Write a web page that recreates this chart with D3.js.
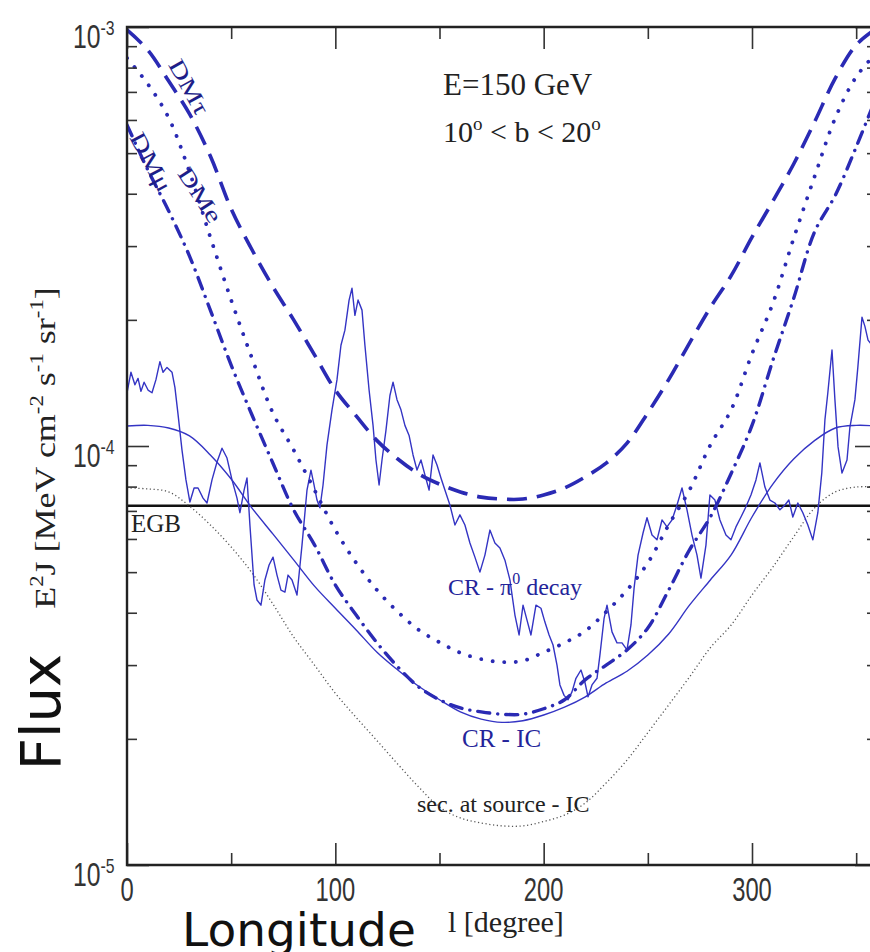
<!DOCTYPE html>
<html><head><meta charset="utf-8">
<script src="https://cdn.jsdelivr.net/npm/d3@7"></script>
<style>body{margin:0;background:#fff;} svg{display:block;}</style>
</head><body>
<svg id="c" width="870" height="952"></svg>
<script>
// ---------- data ----------
const lon = d3.range(0, 361, 10);
const dmTau = [9.84e-4, 8.81e-4, 7.43e-4, 6.20e-4, 4.92e-4, 3.68e-4, 2.94e-4, 2.40e-4, 2.00e-4, 1.65e-4,
  1.36e-4, 1.18e-4, 1.03e-4, 9.31e-5, 8.58e-5, 8.11e-5, 7.77e-5, 7.55e-5, 7.47e-5, 7.47e-5,
  7.64e-5, 7.94e-5, 8.44e-5, 9.10e-5, 1.016e-4, 1.20e-4, 1.44e-4, 1.76e-4, 2.14e-4, 2.55e-4,
  3.15e-4, 3.84e-4, 4.71e-4, 5.93e-4, 7.55e-4, 9.06e-4, 9.94e-4];
const dmE = [8.43e-4, 7.31e-4, 6.07e-4, 4.51e-4, 3.15e-4, 2.23e-4, 1.62e-4, 1.20e-4, 9.78e-5, 7.85e-5,
  6.30e-5, 5.26e-5, 4.53e-5, 4.02e-5, 3.64e-5, 3.40e-5, 3.21e-5, 3.10e-5, 3.05e-5, 3.07e-5,
  3.22e-5, 3.39e-5, 3.62e-5, 4.02e-5, 4.53e-5, 5.26e-5, 6.48e-5, 7.85e-5, 1.005e-4, 1.22e-4,
  1.66e-4, 2.19e-4, 3.13e-4, 4.39e-4, 6.07e-4, 7.6e-4, 8.7e-4];
const dmMu = [5.84e-4, 4.56e-4, 3.64e-4, 2.84e-4, 2.11e-4, 1.56e-4, 1.186e-4, 9.11e-5, 7.04e-5, 5.81e-5,
  4.66e-5, 3.95e-5, 3.39e-5, 2.97e-5, 2.66e-5, 2.48e-5, 2.37e-5, 2.32e-5, 2.29e-5, 2.29e-5,
  2.36e-5, 2.48e-5, 2.77e-5, 3.00e-5, 3.26e-5, 3.68e-5, 4.53e-5, 5.65e-5, 6.77e-5, 8.6e-5,
  1.12e-4, 1.60e-4, 2.25e-4, 3.24e-4, 3.97e-4, 5.17e-4, 6.88e-4];
const crIC = [1.116e-4, 1.12e-4, 1.104e-4, 1.057e-4, 9.52e-5, 8.34e-5, 7.11e-5, 6.17e-5, 5.35e-5, 4.63e-5,
  4.10e-5, 3.64e-5, 3.22e-5, 2.92e-5, 2.67e-5, 2.48e-5, 2.32e-5, 2.23e-5, 2.19e-5, 2.21e-5,
  2.28e-5, 2.38e-5, 2.52e-5, 2.72e-5, 2.90e-5, 3.17e-5, 3.56e-5, 4.17e-5, 4.79e-5, 5.5e-5,
  6.77e-5, 8.11e-5, 9.31e-5, 1.03e-4, 1.104e-4, 1.12e-4, 1.116e-4];
const secIC = [7.94e-5, 7.9e-5, 7.77e-5, 7.19e-5, 6.48e-5, 5.74e-5, 4.98e-5, 4.20e-5, 3.50e-5, 3.00e-5,
  2.57e-5, 2.25e-5, 1.98e-5, 1.74e-5, 1.535e-5, 1.375e-5, 1.295e-5, 1.26e-5, 1.24e-5, 1.24e-5,
  1.27e-5, 1.316e-5, 1.406e-5, 1.57e-5, 1.78e-5, 2.07e-5, 2.41e-5, 2.81e-5, 3.30e-5, 3.74e-5,
  4.41e-5, 5.14e-5, 6.07e-5, 7.11e-5, 7.77e-5, 7.98e-5, 7.98e-5];
// CR - pi0 decay: [longitude, flux]
const pi0 = [[0,1.34e-4],[1.9,1.50e-4],[3.8,1.40e-4],[5.3,1.45e-4],[6.7,1.35e-4],[8.2,1.42e-4],[10.1,1.36e-4],
  [12.0,1.34e-4],[13.9,1.44e-4],[15.8,1.59e-4],[17.3,1.50e-4],[19.2,1.54e-4],[21.6,1.50e-4],[23.0,1.38e-4],
  [24.5,1.19e-4],[26.4,9.78e-5],[28.3,8.30e-5],[30.2,7.35e-5],[32.2,7.94e-5],[34.1,7.94e-5],[36.5,7.51e-5],
  [38.4,7.31e-5],[40.8,8.30e-5],[43.2,9.16e-5],[45.6,9.88e-5],[48.0,9.36e-5],[50.4,8.30e-5],[52.8,7.51e-5],
  [54.2,6.93e-5],[56.2,7.85e-5],[57.6,8.39e-5],[59.0,6.48e-5],[61.0,4.66e-5],[62.4,4.29e-5],[64.3,4.17e-5],
  [66.2,4.79e-5],[68.2,5.20e-5],[70.1,5.43e-5],[72.0,4.92e-5],[73.9,4.53e-5],[75.8,4.48e-5],[77.3,4.92e-5],
  [79.2,4.79e-5],[81.6,4.41e-5],[84.0,5.80e-5],[86.4,7.85e-5],[88.3,8.76e-5],[89.8,8.07e-5],[91.2,7.43e-5],
  [92.6,7.12e-5],[94.1,8.07e-5],[96.0,1.006e-4],[98.4,1.22e-4],[100.8,1.44e-4],[102.7,1.74e-4],[104.6,1.89e-4],
  [106.6,2.23e-4],[108.0,2.38e-4],[109.4,2.05e-4],[110.9,2.23e-4],[112.8,2.11e-4],[114.2,1.74e-4],[116.2,1.36e-4],
  [118.1,1.12e-4],[119.5,9.26e-5],[121.0,8.07e-5],[122.4,9.26e-5],[124.3,1.09e-4],[126.2,1.32e-4],[127.7,1.42e-4],
  [129.6,1.29e-4],[131.5,1.22e-4],[133.4,1.12e-4],[135.4,1.06e-4],[137.3,9.52e-5],[139.2,8.76e-5],[141.1,9.26e-5],
  [143.0,8.53e-5],[145.0,7.85e-5],[146.9,9.52e-5],[148.8,9.01e-5],[150.7,8.39e-5],[152.6,7.85e-5],[155.0,7.23e-5],
  [157.4,6.48e-5],[159.8,6.85e-5],[162.2,6.48e-5],[164.6,5.87e-5],[167.0,5.43e-5],[169.4,5.00e-5],[171.8,5.49e-5],
  [174.2,6.30e-5],[176.6,5.87e-5],[179.0,5.71e-5],[181.4,5.34e-5],[183.8,4.79e-5],[186.2,3.95e-5],[188.2,3.54e-5],
  [190.1,4.17e-5],[192.0,3.84e-5],[193.9,3.54e-5],[196.3,4.17e-5],[198.7,4.10e-5],[200.6,3.80e-5],[202.6,3.54e-5],
  [204.5,3.35e-5],[206.4,3.00e-5],[207.8,2.69e-5],[209.8,2.54e-5],[211.7,2.48e-5],[213.6,2.59e-5],[215.5,2.79e-5],
  [217.9,2.92e-5],[219.8,2.73e-5],[221.3,2.52e-5],[223.2,2.69e-5],[225.6,2.79e-5],[227.0,3.17e-5],[229.0,3.88e-5],
  [230.4,4.17e-5],[232.8,3.60e-5],[235.2,3.39e-5],[237.6,3.39e-5],[240.0,3.26e-5],[241.9,3.74e-5],[243.4,4.58e-5],
  [245.3,5.49e-5],[247.7,6.20e-5],[249.6,6.74e-5],[252.0,6.13e-5],[254.4,5.97e-5],[256.8,6.66e-5],[259.2,6.41e-5],
  [261.6,6.66e-5],[264.0,7.23e-5],[266.4,7.94e-5],[268.8,7.04e-5],[271.2,6.13e-5],[273.6,5.49e-5],[275.5,4.84e-5],
  [277.9,5.80e-5],[279.8,7.64e-5],[282.2,7.43e-5],[284.6,6.66e-5],[287.5,6.13e-5],[289.9,5.97e-5],[292.3,6.41e-5],
  [294.7,6.77e-5],[297.1,7.16e-5],[299.5,7.64e-5],[301.9,8.30e-5],[303.8,9.11e-5],[306.2,7.98e-5],[308.6,7.43e-5],
  [311.0,7.31e-5],[313.4,7.04e-5],[315.8,7.23e-5],[317.7,7.43e-5],[319.6,6.77e-5],[322.0,7.31e-5],[324.4,6.93e-5],
  [326.8,6.48e-5],[329.2,5.97e-5],[331.6,6.93e-5],[333.5,8.62e-5],[335.0,1.154e-4],[336.4,1.34e-4],[338.4,1.695e-4],
  [339.8,1.29e-4],[341.3,9.95e-5],[343.2,8.62e-5],[345.6,9.26e-5],[347.0,1.11e-4],[349.4,1.29e-4],[350.8,1.54e-4],
  [352.8,2.03e-4],[354.2,1.93e-4],[355.7,1.79e-4],[357.6,1.74e-4]];
const egb = 7.2e-5;
const xMajor = [0, 100, 200, 300];
const xMinor = [50, 150, 250, 350];
const yMajor = [1e-5, 1e-4, 1e-3];
const yMajorExp = ["-5", "-4", "-3"];
const yMinor = [2,3,4,5,6,7,8,9].map(k => k * 1e-5).concat([2,3,4,5,6,7,8,9].map(k => k * 1e-4));

// ---------- chart ----------
const svg = d3.select('#c');
svg.append('rect').attr('width', 870).attr('height', 952).attr('fill', '#fff');
const x = d3.scaleLinear().domain([0, 360]).range([127, 877]);
const y = d3.scaleLog().domain([1e-5, 1e-3]).range([865, 27]);
const BLUE = '#2a2ab4', THIN = '#3434c4', LABEL = '#24249a';

svg.append('defs').append('clipPath').attr('id', 'clip')
  .append('rect').attr('x', 127).attr('y', 27).attr('width', 750).attr('height', 838);
const plot = svg.append('g').attr('clip-path', 'url(#clip)');

const smooth = d3.line().x(d => x(d[0])).y(d => y(d[1])).curve(d3.curveCatmullRom.alpha(0.5));
const raw = d3.line().x(d => x(d[0])).y(d => y(d[1]));
const zipL = arr => lon.map((l, i) => [l, arr[i]]);

// EGB
plot.append('line').attr('x1', x(0)).attr('x2', x(360)).attr('y1', y(egb)).attr('y2', y(egb))
  .attr('stroke', '#111').attr('stroke-width', 2.6);

// secondary at source IC
plot.append('path').attr('d', smooth(zipL(secIC))).attr('fill', 'none')
  .attr('stroke', '#555').attr('stroke-width', 1.3).attr('stroke-dasharray', '1.2,2.6');
// CR IC
plot.append('path').attr('d', smooth(zipL(crIC))).attr('fill', 'none')
  .attr('stroke', THIN).attr('stroke-width', 1.4);
// pi0
plot.append('path').attr('d', raw(pi0)).attr('fill', 'none')
  .attr('stroke', THIN).attr('stroke-width', 1.4).attr('stroke-linejoin', 'round');
// DM curves
plot.append('path').attr('d', smooth(zipL(dmTau))).attr('fill', 'none')
  .attr('stroke', BLUE).attr('stroke-width', 3.6).attr('stroke-dasharray', '20,10');
plot.append('path').attr('d', smooth(zipL(dmE))).attr('fill', 'none')
  .attr('stroke', BLUE).attr('stroke-width', 3.8).attr('stroke-linecap', 'round')
  .attr('stroke-dasharray', '0.1,11.5');
plot.append('path').attr('d', smooth(zipL(dmMu))).attr('fill', 'none')
  .attr('stroke', BLUE).attr('stroke-width', 3.4).attr('stroke-linecap', 'round')
  .attr('stroke-dasharray', '12,8,0.1,8');

// ticks
const tk = (axis, tr) => {
  const g = svg.append('g').attr('transform', tr).call(axis);
  g.select('.domain').remove();
  g.selectAll('line').attr('stroke', '#333').attr('stroke-width', 1.6);
  return g;
};
tk(d3.axisTop(x).tickValues(xMajor).tickSize(22).tickFormat(''), 'translate(0,865)');
tk(d3.axisTop(x).tickValues(xMinor).tickSize(12).tickFormat(''), 'translate(0,865)');
tk(d3.axisBottom(x).tickValues(xMajor).tickSize(22).tickFormat(''), 'translate(0,27)');
tk(d3.axisBottom(x).tickValues(xMinor).tickSize(12).tickFormat(''), 'translate(0,27)');
tk(d3.axisRight(y).tickValues(yMajor).tickSize(22).tickFormat(''), 'translate(127,0)');
tk(d3.axisRight(y).tickValues(yMinor).tickSize(10).tickFormat(''), 'translate(127,0)');
tk(d3.axisLeft(y).tickValues(yMajor).tickSize(22).tickFormat(''), 'translate(877,0)');
tk(d3.axisLeft(y).tickValues(yMinor).tickSize(10).tickFormat(''), 'translate(877,0)');

// frame
svg.append('path').attr('d', `M127,27H877V865H127Z`).attr('fill', 'none')
  .attr('stroke', '#222').attr('stroke-width', 2.4);

// tick labels
const SANS = 'Liberation Sans, Arial, sans-serif';
const SERIF = 'Liberation Serif, Times New Roman, serif';
xMajor.forEach(v => {
  svg.append('text').attr('transform', `translate(${x(v)},901) scale(0.72,1)`)
    .attr('text-anchor', 'middle').attr('font-family', SANS).attr('font-size', 33)
    .attr('fill', '#333').text(v);
});
yMajor.forEach((v, i) => {
  const t = svg.append('text').attr('transform', `translate(73,${y(v) + 21}) scale(0.75,1)`)
    .attr('font-family', SANS).attr('font-size', 33).attr('fill', '#333');
  t.append('tspan').text('10');
  t.append('tspan').attr('font-size', 21).attr('dy', -13).text(yMajorExp[i]);
});

// rich text helper
function rich(sel, parts, supSize, rise) {
  let up = false;
  parts.forEach(p => {
    const s = sel.append('tspan').text(p[0]);
    if (p[1]) { s.attr('font-size', supSize).attr('dy', up ? 0 : -rise); up = true; }
    else { if (up) s.attr('dy', rise); up = false; }
  });
  return sel;
}

// axis titles (original)
rich(svg.append('text').attr('transform', 'translate(55,448) rotate(-90) scale(1.2,1)')
  .attr('text-anchor', 'middle').attr('font-family', SERIF).attr('font-size', 30).attr('fill', '#222'),
  [['E'], ['2', 1], ['J [MeV cm'], ['-2', 1], [' s'], ['-1', 1], [' sr'], ['-1', 1], [']']], 19, 12);
svg.append('text').attr('x', 448).attr('y', 932).attr('font-family', SERIF).attr('font-size', 30)
  .attr('fill', '#222').text('l [degree]');

// overlay titles
svg.append('text').attr('x', 299).attr('y', 946).attr('text-anchor', 'middle')
  .attr('font-family', 'DejaVu Sans, sans-serif').attr('font-size', 47).attr('fill', '#111').text('Longitude');
svg.append('text').attr('transform', 'translate(60,712) rotate(-90)').attr('text-anchor', 'middle')
  .attr('font-family', 'DejaVu Sans, sans-serif').attr('font-size', 56).attr('fill', '#111').text('Flux');

// annotations
svg.append('text').attr('x', 443).attr('y', 95).attr('font-family', SERIF).attr('font-size', 31)
  .attr('fill', '#222').text('E=150 GeV');
rich(svg.append('text').attr('x', 443).attr('y', 142).attr('font-family', SERIF).attr('font-size', 30).attr('fill', '#222'),
  [['10'], ['o', 1], [' < b < 20'], ['o', 1]], 19, 12);

const lab = (txt, cx, cy, ang, size) => svg.append('text')
  .attr('transform', `translate(${cx},${cy}) rotate(${ang}) scale(1.3,1)`)
  .attr('text-anchor', 'middle').attr('dominant-baseline', 'central')
  .attr('font-family', SERIF).attr('font-size', size).attr('fill', '#1e1e88').text(txt);
lab('DMτ', 189, 87, 61, 23);
lab('DMe', 200, 195, 57, 23);
lab('DMμ', 151, 162, 62, 23);

rich(svg.append('text').attr('x', 448).attr('y', 595).attr('font-family', SERIF).attr('font-size', 24).attr('fill', LABEL),
  [['CR - π'], ['0', 1], [' decay']], 16, 11);
svg.append('text').attr('x', 462).attr('y', 747).attr('font-family', SERIF).attr('font-size', 25)
  .attr('fill', LABEL).text('CR - IC');
svg.append('text').attr('x', 417).attr('y', 812).attr('font-family', SERIF).attr('font-size', 24)
  .attr('fill', '#222').text('sec. at source - IC');
svg.append('text').attr('x', 131).attr('y', 532).attr('font-family', SERIF).attr('font-size', 25)
  .attr('fill', '#222').text('EGB');
</script>
</body></html>
